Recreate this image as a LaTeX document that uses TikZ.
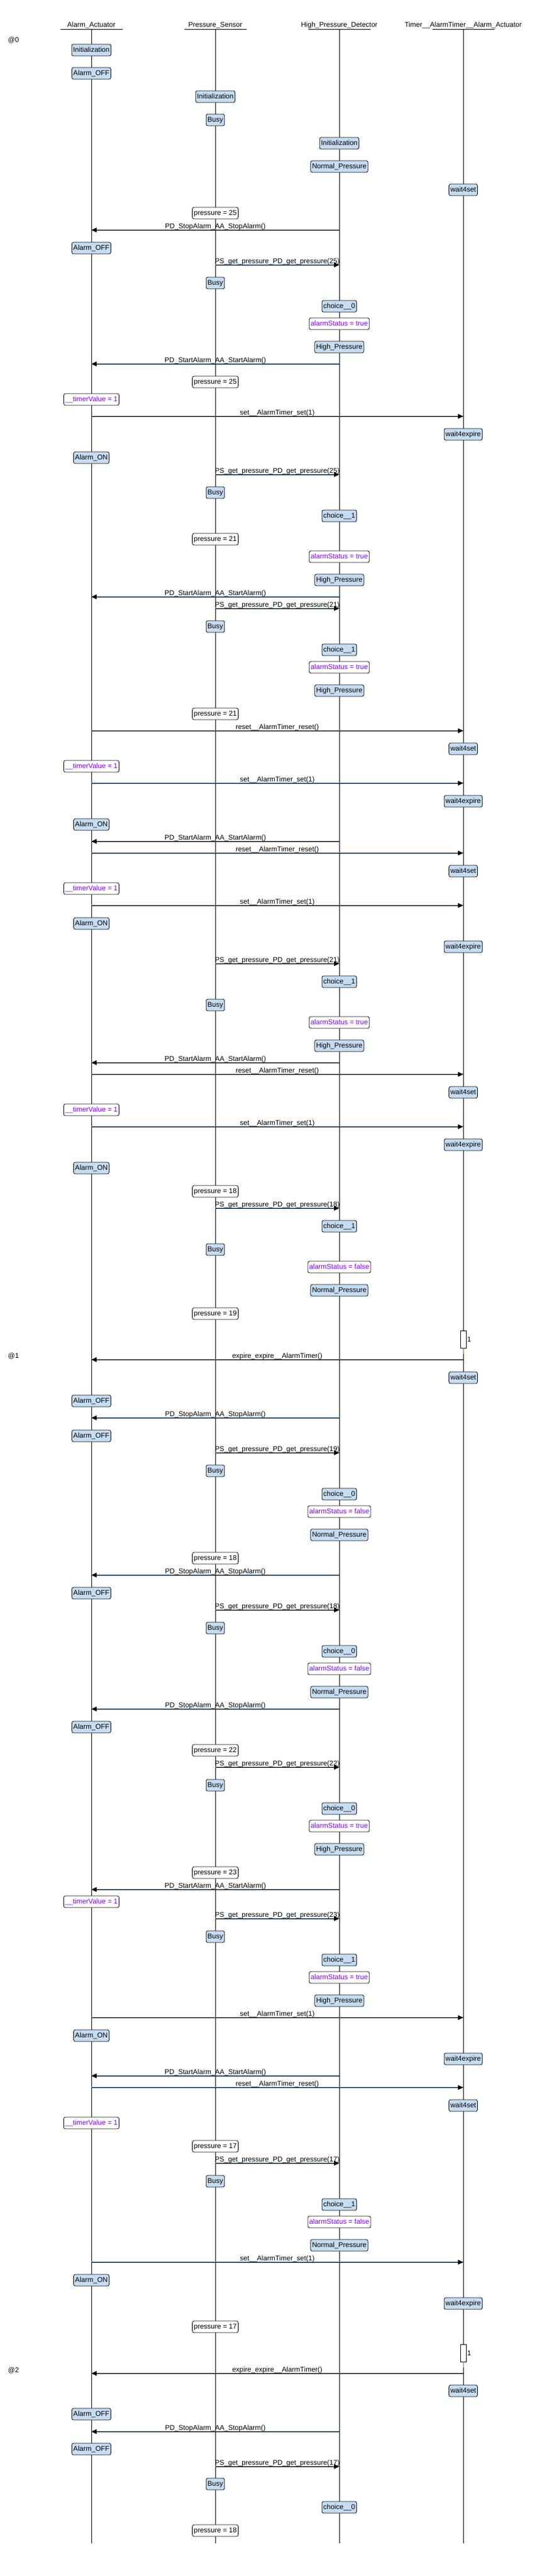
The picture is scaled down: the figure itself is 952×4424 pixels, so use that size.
\documentclass[tikz,border=0pt]{standalone}
\usepackage{fontspec}
\setmainfont{Liberation Sans}
\usetikzlibrary{arrows.meta}

\definecolor{stateblue}{RGB}{197,220,242}
\definecolor{varpurple}{RGB}{127,0,255}
\definecolor{msgblue}{RGB}{110,160,200}
\definecolor{tickbrown}{RGB}{160,110,20}

\begin{document}
\begin{tikzpicture}[x=1pt,y=1pt,line width=0.8pt,
  every node/.style={font=\fontsize{12}{14}\selectfont},
  head/.style={anchor=base,inner sep=0pt},
  statebox/.style={draw,fill=stateblue,rounded corners=3pt,minimum height=20pt,
    inner xsep=2.5pt,inner ysep=0pt,text height=9pt,text depth=2.5pt},
  assign/.style={statebox,fill=white},
  varset/.style={assign,text=varpurple},
  msg/.style={-{Triangle[length=9pt,width=8pt]}},
  msgshade/.style={msgblue},
  timebox/.style={draw,fill=white,minimum width=10pt,minimum height=30pt,inner sep=0pt}]
  \useasboundingbox (0,0) rectangle (952,-4424);

  % lifelines
  \foreach \n/\x/\txt in {aa/157/Alarm\_Actuator, ps/370/Pressure\_Sensor,
      hpd/583/High\_Pressure\_Detector, tmr/796/Timer\_\_AlarmTimer\_\_Alarm\_Actuator}
    {
    \node[head] (\n) at (\x,-47) {\txt};
    \coordinate (\n top) at (\x,-50);
    \coordinate (\n end) at (\x,-4368);
    \draw ([xshift=-53.5pt]\n top) -- ([xshift=53.5pt]\n top);
    \draw (\n top) -- (\n end);
    }

  % time marks
  \node[anchor=west] (at0) at (10,-69) {@0};
  \node[anchor=west] (at1) at (10,-2329) {@1};
  \node[anchor=west] (at2) at (10,-4071) {@2};

  % messages
  \foreach \y/\src/\dst/\txt in {
      395/hpd/aa/PD\_StopAlarm\_AA\_StopAlarm(),
      455/ps/hpd/PS\_get\_pressure\_PD\_get\_pressure(25),
      625/hpd/aa/PD\_StartAlarm\_AA\_StartAlarm(),
      715/aa/tmr/set\_\_AlarmTimer\_set(1),
      815/ps/hpd/PS\_get\_pressure\_PD\_get\_pressure(25),
      1025/hpd/aa/PD\_StartAlarm\_AA\_StartAlarm(),
      1045/ps/hpd/PS\_get\_pressure\_PD\_get\_pressure(21),
      1255/aa/tmr/reset\_\_AlarmTimer\_reset(),
      1345/aa/tmr/set\_\_AlarmTimer\_set(1),
      1445/hpd/aa/PD\_StartAlarm\_AA\_StartAlarm(),
      1465/aa/tmr/reset\_\_AlarmTimer\_reset(),
      1555/aa/tmr/set\_\_AlarmTimer\_set(1),
      1655/ps/hpd/PS\_get\_pressure\_PD\_get\_pressure(21),
      1825/hpd/aa/PD\_StartAlarm\_AA\_StartAlarm(),
      1845/aa/tmr/reset\_\_AlarmTimer\_reset(),
      1935/aa/tmr/set\_\_AlarmTimer\_set(1),
      2075/ps/hpd/PS\_get\_pressure\_PD\_get\_pressure(18),
      2335/tmr/aa/expire\_expire\_\_AlarmTimer(),
      2435/hpd/aa/PD\_StopAlarm\_AA\_StopAlarm(),
      2495/ps/hpd/PS\_get\_pressure\_PD\_get\_pressure(19),
      2705/hpd/aa/PD\_StopAlarm\_AA\_StopAlarm(),
      2765/ps/hpd/PS\_get\_pressure\_PD\_get\_pressure(18),
      2935/hpd/aa/PD\_StopAlarm\_AA\_StopAlarm(),
      3035/ps/hpd/PS\_get\_pressure\_PD\_get\_pressure(22),
      3245/hpd/aa/PD\_StartAlarm\_AA\_StartAlarm(),
      3295/ps/hpd/PS\_get\_pressure\_PD\_get\_pressure(23),
      3465/aa/tmr/set\_\_AlarmTimer\_set(1),
      3565/hpd/aa/PD\_StartAlarm\_AA\_StartAlarm(),
      3585/aa/tmr/reset\_\_AlarmTimer\_reset(),
      3715/ps/hpd/PS\_get\_pressure\_PD\_get\_pressure(17),
      3885/aa/tmr/set\_\_AlarmTimer\_set(1),
      4076/tmr/aa/expire\_expire\_\_AlarmTimer(),
      4176/hpd/aa/PD\_StopAlarm\_AA\_StopAlarm(),
      4236/ps/hpd/PS\_get\_pressure\_PD\_get\_pressure(17)}
    {
    \draw[msgshade] (\src |- 0,-\y+1) -- (\dst |- 0,-\y+1);
    \draw[msg] (\src |- 0,-\y) -- node[midway,anchor=base,yshift=3pt] {\txt} (\dst |- 0,-\y);
    }

  % timer ticks
  \foreach \y [count=\i] in {2300,4041}
    {
    \node[timebox] (tb\i) at (tmr |- 0,-\y) {};
    \node[anchor=west,inner sep=1pt] (tl\i) at (tb\i.east) {1};
    \draw[tickbrown] (tb\i.south) -- ++(0,-10);
    }

  % states
  \foreach \who/\y/\txt [count=\i] in {
      aa/86/Initialization, aa/126/Alarm\_OFF, ps/166/Initialization, ps/206/Busy,
      hpd/246/Initialization, hpd/286/Normal\_Pressure, tmr/326/wait4set,
      aa/426/Alarm\_OFF, ps/486/Busy, hpd/526/choice\_\_0, hpd/596/High\_Pressure,
      tmr/746/wait4expire, aa/786/Alarm\_ON, ps/846/Busy, hpd/886/choice\_\_1,
      hpd/996/High\_Pressure, ps/1076/Busy, hpd/1116/choice\_\_1, hpd/1186/High\_Pressure,
      tmr/1286/wait4set, tmr/1376/wait4expire, aa/1416/Alarm\_ON, tmr/1496/wait4set,
      aa/1586/Alarm\_ON, tmr/1626/wait4expire, hpd/1686/choice\_\_1, ps/1726/Busy,
      hpd/1796/High\_Pressure, tmr/1876/wait4set, tmr/1966/wait4expire, aa/2006/Alarm\_ON,
      hpd/2106/choice\_\_1, ps/2146/Busy, hpd/2216/Normal\_Pressure, tmr/2366/wait4set,
      aa/2406/Alarm\_OFF, aa/2466/Alarm\_OFF, ps/2526/Busy, hpd/2566/choice\_\_0,
      hpd/2636/Normal\_Pressure, aa/2736/Alarm\_OFF, ps/2796/Busy, hpd/2836/choice\_\_0,
      hpd/2906/Normal\_Pressure, aa/2966/Alarm\_OFF, ps/3066/Busy, hpd/3106/choice\_\_0,
      hpd/3176/High\_Pressure, ps/3326/Busy, hpd/3366/choice\_\_1, hpd/3436/High\_Pressure,
      aa/3496/Alarm\_ON, tmr/3536/wait4expire, tmr/3616/wait4set, ps/3746/Busy,
      hpd/3786/choice\_\_1, hpd/3856/Normal\_Pressure, aa/3916/Alarm\_ON,
      tmr/3956/wait4expire, tmr/4106/wait4set, aa/4146/Alarm\_OFF, aa/4206/Alarm\_OFF,
      ps/4266/Busy, hpd/4306/choice\_\_0}
    \node[statebox] (s\i) at (\who |- 0,-\y) {\txt};

  % pressure values
  \foreach \y/\v [count=\i] in {366/25, 656/25, 926/21, 1226/21, 2046/18, 2256/19,
      2676/18, 3006/22, 3216/23, 3686/17, 3996/17, 4346/18}
    \node[assign] (p\i) at (ps |- 0,-\y) {pressure = \v};

  % variable updates
  \foreach \who/\y/\txt [count=\i] in {
      hpd/556/alarmStatus = true, aa/686/\_\_timerValue = 1, hpd/956/alarmStatus = true,
      hpd/1146/alarmStatus = true, aa/1316/\_\_timerValue = 1, aa/1526/\_\_timerValue = 1,
      hpd/1756/alarmStatus = true, aa/1906/\_\_timerValue = 1, hpd/2176/alarmStatus = false,
      hpd/2596/alarmStatus = false, hpd/2866/alarmStatus = false, hpd/3136/alarmStatus = true,
      aa/3266/\_\_timerValue = 1, hpd/3396/alarmStatus = true, aa/3646/\_\_timerValue = 1,
      hpd/3816/alarmStatus = false}
    \node[varset] (v\i) at (\who |- 0,-\y) {\txt};
\end{tikzpicture}
\end{document}
